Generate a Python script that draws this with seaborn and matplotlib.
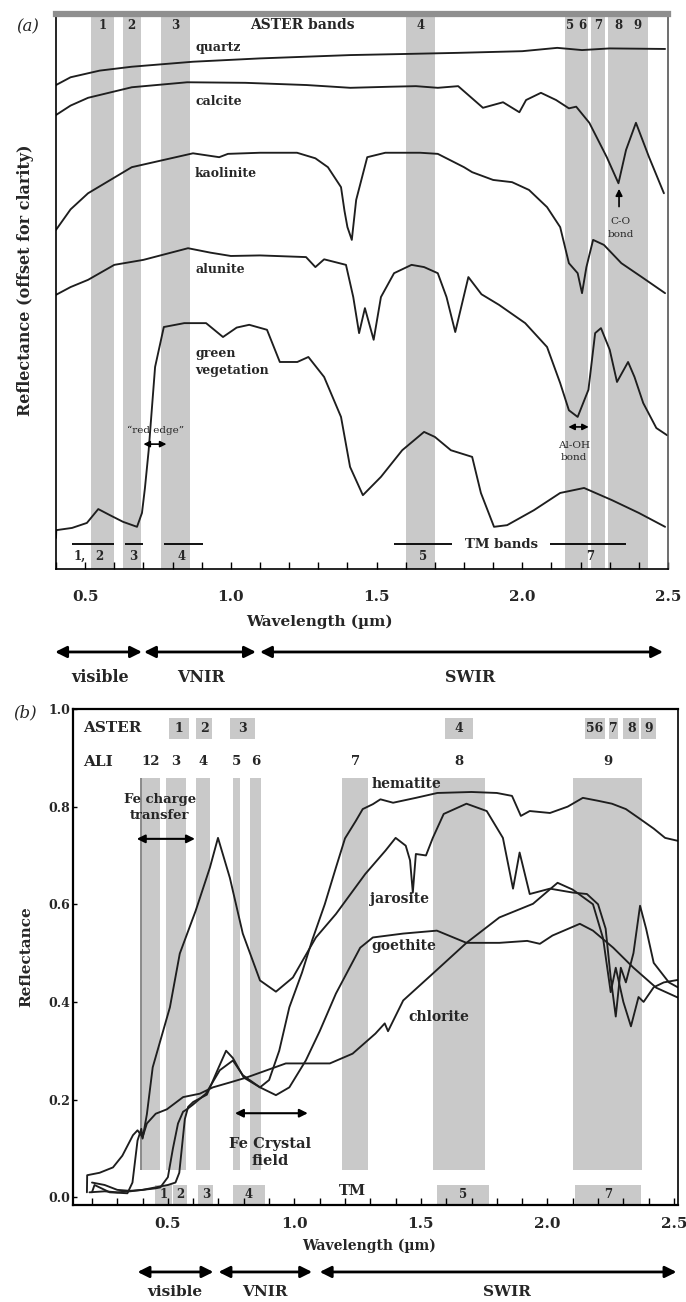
import matplotlib
matplotlib.use("Agg")
import numpy as np
import matplotlib.pyplot as plt
import seaborn as sns
from matplotlib.patches import Rectangle
from matplotlib.ticker import MultipleLocator, FormatStrFormatter

# ---------------- panel (a) data: wavelength (um) / offset reflectance (0-100) ----------------
quartz_wl = [0.40, 0.45, 0.55, 0.66, 0.87, 1.10, 1.41, 1.60, 1.78, 2.00, 2.12, 2.205, 2.30, 2.49]
quartz_r = [87.2, 88.6, 89.8, 90.5, 91.4, 92.0, 92.6, 92.8, 93.0, 93.3, 93.9, 93.5, 93.8, 93.7]

calcite_wl = [0.40, 0.45, 0.51, 0.66, 0.85, 1.05, 1.26, 1.41, 1.55, 1.635, 1.71, 1.78, 1.865, 1.934,
              1.99, 2.013, 2.064, 2.116, 2.16, 2.185, 2.23, 2.29, 2.33, 2.356, 2.39, 2.435, 2.486]
calcite_r = [81.8, 83.5, 84.9, 86.8, 87.7, 87.6, 87.2, 86.7, 86.9, 87.0, 86.7, 87.0, 83.1, 84.1,
             82.3, 84.5, 85.8, 84.5, 83.0, 83.3, 80.4, 74.2, 69.5, 75.5, 80.4, 74.2, 67.7]

kaolinite_wl = [0.40, 0.45, 0.51, 0.66, 0.87, 0.96, 0.99, 1.10, 1.227, 1.29, 1.333, 1.378, 1.39, 1.40,
                1.415, 1.43, 1.468, 1.53, 1.65, 1.71, 1.80, 1.828, 1.90, 1.965, 2.023, 2.085, 2.13,
                2.16, 2.19, 2.205, 2.22, 2.243, 2.28, 2.34, 2.41, 2.49]
kaolinite_r = [61.1, 64.8, 67.7, 72.4, 74.9, 74.2, 74.8, 75.0, 75.0, 74.0, 72.4, 68.8, 64.5, 61.6,
               59.3, 66.5, 74.2, 75.0, 75.0, 74.8, 72.4, 71.5, 70.1, 69.7, 68.3, 65.2, 61.6,
               55.1, 53.3, 49.7, 54.4, 59.3, 58.4, 55.1, 52.6, 49.7]

alunite_wl = [0.40, 0.45, 0.51, 0.60, 0.70, 0.853, 0.93, 1.00, 1.10, 1.258, 1.29, 1.32, 1.395, 1.42,
              1.44, 1.46, 1.49, 1.515, 1.56, 1.62, 1.663, 1.71, 1.74, 1.77, 1.815, 1.86, 1.92, 2.01,
              2.085, 2.13, 2.16, 2.19, 2.227, 2.25, 2.27, 2.30, 2.325, 2.363, 2.385, 2.415, 2.46, 2.497]
alunite_r = [49.4, 50.8, 52.1, 54.8, 55.7, 57.8, 57.0, 56.4, 56.5, 56.2, 54.4, 55.8, 54.8, 49.0,
             42.5, 47.0, 41.3, 49.0, 53.3, 54.8, 54.4, 53.3, 49.0, 42.7, 52.6, 49.5, 47.6, 44.3,
             40.0, 33.5, 28.6, 27.4, 32.3, 42.5, 43.4, 39.5, 33.7, 37.3, 34.6, 29.9, 25.4, 24.1]

vegetation_wl = [0.40, 0.401, 0.455, 0.506, 0.545, 0.585, 0.63, 0.678, 0.695, 0.705, 0.718, 0.74, 0.77,
                 0.84, 0.915, 0.973, 1.02, 1.063, 1.124, 1.168, 1.228, 1.266, 1.32, 1.378, 1.409,
                 1.453, 1.515, 1.588, 1.663, 1.70, 1.755, 1.828, 1.858, 1.903, 1.948, 2.04, 2.13,
                 2.212, 2.308, 2.40, 2.49]
vegetation_r = [5.6, 7.0, 7.4, 8.3, 10.8, 9.7, 8.5, 7.6, 10.1, 14.5, 21.4, 36.4, 43.6,
                44.3, 44.3, 41.8, 43.5, 44.0, 43.1, 37.3, 37.3, 38.2, 34.6, 27.4, 18.4,
                13.3, 16.6, 21.4, 24.7, 23.8, 21.4, 20.2, 13.7, 7.6, 7.9, 10.6, 13.7,
                14.6, 12.4, 10.1, 7.6]

mineral_names_a = ["quartz", "calcite", "kaolinite", "alunite", "green\nvegetation"]

aster_a_lo = [0.52, 0.63, 0.76, 1.60, 2.145, 2.185, 2.235, 2.295, 2.36]
aster_a_hi = [0.60, 0.69, 0.86, 1.70, 2.185, 2.225, 2.285, 2.365, 2.43]
aster_a_labels = ["1", "2", "3", "4", "5", "6", "7", "8", "9"]

tm_a_lo = [0.455, 0.637, 0.77, 1.56, 2.095]
tm_a_hi = [0.60, 0.70, 0.904, 1.76, 2.356]
tm_a_labels = ["1,", "2", "3", "4", "5", "7"]
tm_a_label_wl = [0.48, 0.55, 0.664, 0.832, 1.66, 2.233]

# ---------------- panel (b) data: wavelength (um) / reflectance ----------------
hematite_wl = [0.19, 0.25, 0.30, 0.35, 0.40, 0.45, 0.50, 0.53, 0.545, 0.555, 0.567, 0.58, 0.60, 0.654,
               0.70, 0.73, 0.757, 0.80, 0.864, 0.90, 0.94, 0.98, 1.03, 1.07, 1.12, 1.164, 1.20,
               1.243, 1.27, 1.31, 1.34, 1.39, 1.48, 1.565, 1.70, 1.80, 1.86, 1.895, 1.93, 2.01,
               2.08, 2.14, 2.20, 2.255, 2.31, 2.36, 2.42, 2.465, 2.515]
hematite_r = [0.01, 0.012, 0.01, 0.012, 0.015, 0.02, 0.025, 0.03, 0.05, 0.10, 0.16, 0.185, 0.195, 0.21,
              0.265, 0.30, 0.285, 0.245, 0.225, 0.24, 0.30, 0.389, 0.46, 0.526, 0.60, 0.675, 0.735,
              0.771, 0.795, 0.805, 0.815, 0.808, 0.818, 0.828, 0.830, 0.828, 0.822, 0.781, 0.791, 0.787,
              0.80, 0.818, 0.812, 0.806, 0.795, 0.777, 0.755, 0.736, 0.730]

goethite_wl = [0.20, 0.25, 0.30, 0.35, 0.40, 0.45, 0.47, 0.50, 0.52, 0.54, 0.56, 0.575, 0.60, 0.65,
               0.705, 0.757, 0.796, 0.864, 0.927, 0.98, 1.045, 1.10, 1.164, 1.26, 1.31, 1.43, 1.563,
               1.68, 1.81, 1.92, 1.97, 2.02, 2.128, 2.18, 2.26, 2.34, 2.43, 2.515]
goethite_r = [0.03, 0.025, 0.015, 0.013, 0.015, 0.018, 0.02, 0.041, 0.10, 0.151, 0.175, 0.18, 0.19, 0.212,
              0.26, 0.28, 0.25, 0.225, 0.209, 0.225, 0.28, 0.34, 0.417, 0.511, 0.532, 0.54, 0.546,
              0.521, 0.521, 0.525, 0.519, 0.536, 0.56, 0.546, 0.511, 0.47, 0.429, 0.409]

jarosite_wl = [0.20, 0.21, 0.27, 0.34, 0.36, 0.38, 0.395, 0.40, 0.417, 0.44, 0.508, 0.547, 0.61, 0.666,
               0.698, 0.745, 0.796, 0.864, 0.927, 0.994, 1.085, 1.164, 1.28, 1.36, 1.40, 1.44, 1.457,
               1.468, 1.48, 1.52, 1.547, 1.59, 1.68, 1.76, 1.824, 1.864, 1.89, 1.93, 2.01, 2.10,
               2.156, 2.20, 2.23, 2.25, 2.27, 2.29, 2.31, 2.34, 2.366, 2.39, 2.42, 2.45, 2.48, 2.515]
jarosite_r = [0.01, 0.025, 0.01, 0.008, 0.03, 0.116, 0.14, 0.12, 0.17, 0.266, 0.389, 0.499, 0.587, 0.675,
              0.736, 0.654, 0.54, 0.444, 0.421, 0.45, 0.532, 0.58, 0.662, 0.71, 0.736, 0.72, 0.69,
              0.624, 0.703, 0.70, 0.736, 0.785, 0.806, 0.791, 0.736, 0.632, 0.706, 0.621, 0.632, 0.624,
              0.621, 0.60, 0.55, 0.45, 0.37, 0.47, 0.44, 0.50, 0.597, 0.55, 0.48, 0.46, 0.44, 0.43]

chlorite_wl = [0.18, 0.181, 0.23, 0.283, 0.32, 0.362, 0.38, 0.40, 0.417, 0.452, 0.496, 0.56, 0.626,
               0.678, 0.745, 0.81, 0.966, 1.14, 1.23, 1.32, 1.357, 1.37, 1.43, 1.547, 1.68, 1.81,
               1.943, 2.04, 2.10, 2.18, 2.22, 2.25, 2.27, 2.30, 2.33, 2.36, 2.38, 2.42, 2.46, 2.515]
chlorite_r = [0.01, 0.045, 0.05, 0.061, 0.085, 0.127, 0.137, 0.123, 0.151, 0.171, 0.18, 0.205, 0.212,
              0.225, 0.235, 0.245, 0.274, 0.274, 0.294, 0.335, 0.356, 0.34, 0.403, 0.458, 0.521, 0.573,
              0.601, 0.644, 0.63, 0.60, 0.53, 0.42, 0.47, 0.40, 0.35, 0.41, 0.40, 0.43, 0.44, 0.445]

mineral_names_b = ["hematite", "jarosite", "goethite", "chlorite"]

aster_b_lo = [0.504, 0.61, 0.746, 1.596, 2.148, 2.242, 2.30, 2.37]
aster_b_hi = [0.582, 0.676, 0.844, 1.705, 2.226, 2.28, 2.363, 2.43]
aster_b_labels = ["1", "2", "3", "4", "56", "7", "8", "9"]

ali_lo = [0.393, 0.492, 0.61, 0.757, 0.824, 1.19, 1.547, 2.10]
ali_hi = [0.468, 0.571, 0.666, 0.785, 0.868, 1.29, 1.753, 2.374]
ali_labels = ["12", "3", "4", "5", "6", "7", "8", "9"]

tm_b_lo = [0.45, 0.52, 0.62, 0.757, 1.565, 2.11]
tm_b_hi = [0.515, 0.575, 0.68, 0.883, 1.77, 2.37]
tm_b_labels = ["1", "2", "3", "4", "5", "7"]

# ---------------- style ----------------
sns.set_theme(style="white")
plt.rcParams["font.family"] = ["DejaVu Serif"]
plt.rcParams["font.weight"] = "bold"

BAND = "#c9c9c9"
LINE = "#1e1e1e"

fig = plt.figure(figsize=(6.86, 13.02), dpi=100)
axA = fig.add_axes([56 / 686, 1 - 569 / 1302, 612 / 686, 555 / 1302])
axB = fig.add_axes([73 / 686, 1 - 1205 / 1302, 605 / 686, 496 / 1302])


def draw_line(ax, x, y):
    sns.lineplot(x=np.asarray(x), y=np.asarray(y), ax=ax, color=LINE, linewidth=1.35,
                 estimator=None, sort=False, legend=False)


def region_arrows(ax, y_arrow, y_text, spans, labels, label_x, size):
    for (a, b) in spans:
        ax.annotate("", xy=(b, y_arrow), xytext=(a, y_arrow),
                    xycoords=("data", "axes fraction"), textcoords=("data", "axes fraction"),
                    arrowprops=dict(arrowstyle="<|-|>", color="black", lw=2.0,
                                    mutation_scale=17, shrinkA=0, shrinkB=0),
                    annotation_clip=False)
    for lab, x in zip(labels, label_x):
        ax.text(x, y_text, lab, transform=ax.get_xaxis_transform(), ha="center", va="center",
                fontsize=size, fontweight="bold", clip_on=False)


# ======================= panel (a) =======================
ax = axA
ax.set_xlim(0.40, 2.50)
ax.set_ylim(0, 100)
for lo, hi in zip(aster_a_lo, aster_a_hi):
    ax.axvspan(lo, hi, color=BAND, lw=0, zorder=0)
for lo, hi, lab in zip(aster_a_lo, aster_a_hi, aster_a_labels):
    ax.text((lo + hi) / 2, 98.0, lab, ha="center", va="center", fontsize=8.5, fontweight="bold")
ax.text(1.245, 98.0, "ASTER bands", ha="center", va="center", fontsize=10, fontweight="bold")

for x, y in [(quartz_wl, quartz_r), (calcite_wl, calcite_r), (kaolinite_wl, kaolinite_r),
             (alunite_wl, alunite_r), (vegetation_wl, vegetation_r)]:
    draw_line(ax, x, y)

for name, yy in zip(mineral_names_a, [94.0, 84.3, 71.2, 53.9, 37.3]):
    ax.text(0.877, yy, name, ha="left", va="center", fontsize=9, fontweight="bold",
            linespacing=1.45)

# C-O bond
ax.annotate("", xy=(2.332, 68.5), xytext=(2.332, 65.3),
            arrowprops=dict(arrowstyle="-|>", color="black", lw=1.2, mutation_scale=10,
                            shrinkA=0, shrinkB=0))
ax.text(2.338, 61.4, "C-O\nbond", ha="center", va="center", fontsize=7.5, fontweight="normal",
        linespacing=1.5)
# Al-OH bond
ax.annotate("", xy=(2.228, 25.6), xytext=(2.158, 25.6),
            arrowprops=dict(arrowstyle="<|-|>", color="black", lw=1.2, mutation_scale=9,
                            shrinkA=0, shrinkB=0))
ax.text(2.176, 21.2, "Al-OH\nbond", ha="center", va="center", fontsize=7.5, fontweight="normal",
        linespacing=1.5)
# red edge
ax.text(0.743, 24.9, "\u201cred edge\u201d", ha="center", va="center", fontsize=7.5,
        fontweight="normal")
ax.annotate("", xy=(0.779, 22.5), xytext=(0.700, 22.5),
            arrowprops=dict(arrowstyle="<|-|>", color="black", lw=1.2, mutation_scale=9,
                            shrinkA=0, shrinkB=0))

# TM bands
ax.hlines([4.5] * len(tm_a_lo), tm_a_lo, tm_a_hi, color="black", lw=1.3)
ax.text(1.93, 4.5, "TM bands", ha="center", va="center", fontsize=9.5, fontweight="bold")
for lab, x in zip(tm_a_labels, tm_a_label_wl):
    ax.text(x, 2.3, lab, ha="center", va="center", fontsize=8.5, fontweight="bold")

ax.set_yticks([])
ax.xaxis.set_major_locator(MultipleLocator(0.5))
ax.xaxis.set_minor_locator(MultipleLocator(0.1))
ax.xaxis.set_major_formatter(FormatStrFormatter("%.1f"))
ax.tick_params(axis="x", which="both", direction="in", bottom=True, top=False,
               length=5, width=1.0, color="black", labelsize=11, pad=15)
for lbl in ax.get_xticklabels():
    lbl.set_fontweight("bold")
for s in ["left", "right", "bottom"]:
    ax.spines[s].set_color("black")
    ax.spines[s].set_linewidth(1.2)
ax.spines["right"].set_color("#555555")
ax.spines["top"].set_color("#8f8f8f")
ax.spines["top"].set_linewidth(4.5)

ax.text(0.43, -0.095, "Wavelength (\u00b5m)", transform=ax.transAxes, ha="center", va="center",
        fontsize=11, fontweight="bold")
ax.set_ylabel("Reflectance (offset for clarity)", fontsize=11.5, fontweight="bold")
ax.yaxis.set_label_coords(-0.036, 0.52)
ax.text(-0.046, 0.977, "(a)", transform=ax.transAxes, ha="center", va="center",
        fontsize=12, fontstyle="italic", fontweight="normal")

region_arrows(ax, -0.1495, -0.1946,
              [(0.397, 0.695), (0.702, 1.086), (1.10, 2.483)],
              ["visible", "VNIR", "SWIR"], [0.55, 0.898, 1.82], 11.5)

# ======================= panel (b) =======================
ax = axB
ax.set_xlim(0.125, 2.516)
ax.set_ylim(-0.016, 1.0)

for lo, hi in zip(ali_lo, ali_hi):
    ax.add_patch(Rectangle((lo, 0.055), hi - lo, 0.804, color=BAND, lw=0, zorder=0))
ax.vlines([ali_lo[0]], 0.055, 0.859, color="#8a8a8a", lw=1.4, zorder=0.5)
for lo, hi in zip(aster_b_lo, aster_b_hi):
    ax.add_patch(Rectangle((lo, 0.939), hi - lo, 0.042, color=BAND, lw=0, zorder=0))
for lo, hi, lab in zip(aster_b_lo, aster_b_hi, aster_b_labels):
    ax.text((lo + hi) / 2, 0.960, lab, ha="center", va="center", fontsize=9, fontweight="bold")
for lo, hi, lab in zip(ali_lo, ali_hi, ali_labels):
    ax.text((lo + hi) / 2, 0.892, lab, ha="center", va="center", fontsize=9.5, fontweight="bold")
for lo, hi in zip(tm_b_lo, tm_b_hi):
    ax.add_patch(Rectangle((lo, -0.016), hi - lo, 0.041, color=BAND, lw=0, zorder=0))
for lo, hi, lab in zip(tm_b_lo, tm_b_hi, tm_b_labels):
    ax.text((lo + hi) / 2, 0.006, lab, ha="center", va="center", fontsize=8.5, fontweight="bold")
ax.text(1.23, 0.013, "TM", ha="center", va="center", fontsize=10.5, fontweight="bold")
ax.text(0.164, 0.962, "ASTER", ha="left", va="center", fontsize=11, fontweight="bold")
ax.text(0.164, 0.892, "ALI", ha="left", va="center", fontsize=11, fontweight="bold")

for x, y in [(hematite_wl, hematite_r), (goethite_wl, goethite_r), (jarosite_wl, jarosite_r),
             (chlorite_wl, chlorite_r)]:
    draw_line(ax, x, y)

for name, xx, yy in zip(mineral_names_b, [1.306, 1.298, 1.306, 1.452], [0.847, 0.611, 0.515, 0.37]):
    ax.text(xx, yy, name, ha="left", va="center", fontsize=10, fontweight="bold")

ax.text(0.468, 0.798, "Fe charge\ntransfer", ha="center", va="center", fontsize=9.5,
        fontweight="bold", linespacing=1.25)
ax.annotate("", xy=(0.607, 0.734), xytext=(0.377, 0.734),
            arrowprops=dict(arrowstyle="<|-|>", color="black", lw=1.5, mutation_scale=12,
                            shrinkA=0, shrinkB=0))
ax.annotate("", xy=(1.053, 0.172), xytext=(0.765, 0.172),
            arrowprops=dict(arrowstyle="<|-|>", color="black", lw=1.5, mutation_scale=12,
                            shrinkA=0, shrinkB=0))
ax.text(0.903, 0.092, "Fe Crystal\nfield", ha="center", va="center", fontsize=10.5,
        fontweight="bold", linespacing=1.25)

ax.xaxis.set_major_locator(MultipleLocator(0.5))
ax.xaxis.set_minor_locator(MultipleLocator(0.1))
ax.xaxis.set_major_formatter(FormatStrFormatter("%.1f"))
ax.set_yticks([0.0, 0.2, 0.4, 0.6, 0.8, 1.0])
ax.yaxis.set_major_formatter(FormatStrFormatter("%.1f"))
ax.tick_params(axis="x", which="both", direction="in", bottom=True, top=False,
               length=5, width=1.0, color="black", labelsize=11, pad=9)
ax.tick_params(axis="y", which="both", direction="in", left=True, right=False,
               length=3, width=1.0, color="black", labelsize=9, pad=2)
for lbl in ax.get_xticklabels() + ax.get_yticklabels():
    lbl.set_fontweight("bold")
for s in ["left", "right", "bottom", "top"]:
    ax.spines[s].set_color("black")
    ax.spines[s].set_linewidth(1.6)
ax.spines["right"].set_linewidth(1.2)

ax.text(0.49, -0.0827, "Wavelength (\u00b5m)", transform=ax.transAxes, ha="center", va="center",
        fontsize=10, fontweight="bold")
ax.set_ylabel("Reflectance", fontsize=11, fontweight="bold")
ax.yaxis.set_label_coords(-0.066, 0.50)
ax.text(-0.079, 0.992, "(b)", transform=ax.transAxes, ha="center", va="center",
        fontsize=12, fontstyle="italic", fontweight="normal")

region_arrows(ax, -0.135, -0.175,
              [(0.38, 0.68), (0.70, 1.07), (1.10, 2.51)],
              ["visible", "VNIR", "SWIR"], [0.528, 0.883, 1.84], 11)

fig.savefig("out.png", dpi=100, facecolor="white")
